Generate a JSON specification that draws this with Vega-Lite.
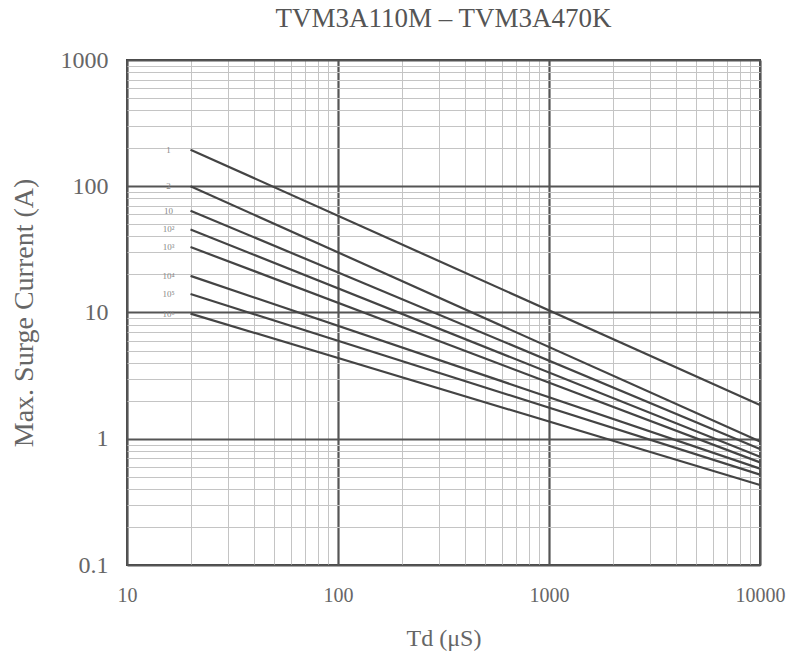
{
  "$schema": "https://vega.github.io/schema/vega-lite/v6.json",
  "width": 633,
  "height": 505,
  "autosize": {"type": "none"},
  "padding": {"left": 127, "top": 60, "right": 38, "bottom": 95},
  "background": "white",
  "title": {"text": "TVM3A110M – TVM3A470K", "font": "Liberation Serif", "fontSize": 27, "fontWeight": "normal", "color": "#555", "offset": 15, "anchor": "middle"},
  "config": {
    "view": {"stroke": "#444", "strokeWidth": 2},
    "axis": {"labelFont": "Liberation Serif", "titleFont": "Liberation Serif", "labelColor": "#666", "titleColor": "#666", "titleFontWeight": "normal", "domain": false, "ticks": false, "labelFlush": false, "labelOverlap": false}
  },
  "data": {"values": [
    {"series": "1", "td": 20, "current": 195},
    {"series": "1", "td": 10000, "current": 1.85},
    {"series": "2", "td": 20, "current": 100},
    {"series": "2", "td": 10000, "current": 0.95},
    {"series": "10", "td": 20, "current": 64},
    {"series": "10", "td": 10000, "current": 0.83},
    {"series": "10²", "td": 20, "current": 45.5},
    {"series": "10²", "td": 10000, "current": 0.72},
    {"series": "10³", "td": 20, "current": 33},
    {"series": "10³", "td": 10000, "current": 0.65},
    {"series": "10⁴", "td": 20, "current": 19.5},
    {"series": "10⁴", "td": 10000, "current": 0.58},
    {"series": "10⁵", "td": 20, "current": 14},
    {"series": "10⁵", "td": 10000, "current": 0.52},
    {"series": "10⁶", "td": 20, "current": 9.8},
    {"series": "10⁶", "td": 10000, "current": 0.43}
  ]},
  "encoding": {
    "x": {"field": "td", "type": "quantitative",
      "scale": {"type": "log", "domain": [10, 10000], "nice": false},
      "axis": {"title": "Td (μS)", "titlePadding": 21, "labelPadding": 20, "labelFontSize": 20, "titleFontSize": 24,
        "values": [10,20,30,40,50,60,70,80,90,100,200,300,400,500,600,700,800,900,1000,2000,3000,4000,5000,6000,7000,8000,9000,10000],
        "format": "~g",
        "labelExpr": "indexof([10,100,1000,10000], datum.value) >= 0 ? datum.label : ''",
        "gridColor": {"condition": {"test": "indexof([10,100,1000,10000], datum.value) >= 0", "value": "#555"}, "value": "#c4c4c4"},
        "gridWidth": {"condition": {"test": "indexof([10,100,1000,10000], datum.value) >= 0", "value": 2.2}, "value": 1},
        "gridOpacity": 1}},
    "y": {"field": "current", "type": "quantitative",
      "scale": {"type": "log", "domain": [0.1, 1000], "nice": false},
      "axis": {"title": "Max. Surge Current (A)", "titlePadding": 22, "labelPadding": 19, "labelFontSize": 24, "titleFontSize": 28,
        "values": [0.1,0.2,0.3,0.4,0.5,0.6,0.7,0.8,0.9,1,2,3,4,5,6,7,8,9,10,20,30,40,50,60,70,80,90,100,200,300,400,500,600,700,800,900,1000],
        "format": "~g",
        "labelExpr": "indexof([0.1,1,10,100,1000], datum.value) >= 0 ? datum.label : ''",
        "gridColor": {"condition": {"test": "indexof([0.1,1,10,100,1000], datum.value) >= 0", "value": "#555"}, "value": "#c4c4c4"},
        "gridWidth": {"condition": {"test": "indexof([0.1,1,10,100,1000], datum.value) >= 0", "value": 2.2}, "value": 1},
        "gridOpacity": 1}}
  },
  "layer": [
    {"mark": {"type": "line", "color": "#444", "strokeWidth": 2.2},
     "encoding": {"detail": {"field": "series", "type": "nominal"}}},
    {"transform": [{"filter": "datum.td === 20"}],
     "mark": {"type": "text", "font": "Liberation Serif", "fontSize": 9, "color": "#888", "dx": -22, "align": "center", "baseline": "middle"},
     "encoding": {"text": {"field": "series", "type": "nominal"}}}
  ]
}
